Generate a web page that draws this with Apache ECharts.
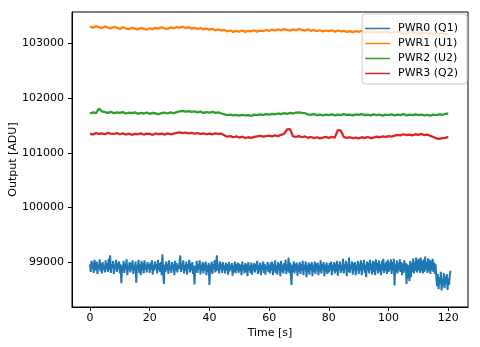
<!DOCTYPE html>
<html><head><meta charset="utf-8">
<script src="https://cdn.jsdelivr.net/npm/echarts@6/dist/echarts.min.js"></script>
<style>html,body{margin:0;padding:0;background:#fff}#c{width:480px;height:347px}</style>
</head><body><div id="c"></div>
<script>
// Sampling: PWR0 every 0.25 s, others every 1 s, starting at 0 s
const pwr0Start = 0, pwr0Step = 0.25;
const pwrStart = 0, pwrStep = 1;
const seriesNames = ['PWR0 (Q1)', 'PWR1 (U1)', 'PWR2 (U2)', 'PWR3 (Q2)'];
const xTicks = [0, 20, 40, 60, 80, 100, 120];
const yTicks = [99000, 100000, 101000, 102000, 103000];

const pwr0 = [
98960,98820,99020,98870,98990,98800,99040,98900,98850,99010,98780,98950,98880,99050,98830,98970,98790,99000,98860,98940,
98810,99030,98870,98980,98820,99060,98850,99123,98800,98960,98890,99020,98780,98950,98860,99040,98820,98980,98870,99010,
98790,98960,98610,98930,98840,99020,98800,98970,98870,99050,98760,98940,98850,99000,98810,98980,98860,99030,98780,98950,
98840,99010,98620,98940,98870,99040,98800,98960,98760,99020,98850,98980,98790,99030,98860,98950,98810,99000,98870,98960,
98800,98990,98860,99030,98770,98950,98840,99010,98880,98960,98790,99040,98850,98980,98820,99000,98760,99141,98830,98600,
98950,98820,99010,98860,98970,98780,99030,98850,98940,98800,99000,98870,98960,98760,99020,98840,98980,98810,98950,98870,
99010,99120,98820,98980,98860,99030,98790,98950,98840,99010,98770,98960,98880,99040,98810,98970,98850,99000,98780,98940,
98590,98920,98830,99020,98800,98960,98860,99030,98770,98950,98840,99000,98790,98970,98850,99010,98760,98940,98820,98980,
98580,98950,98830,99010,98780,98960,98870,99030,98810,98990,99123,98840,98950,98790,99010,98860,98970,98800,99000,98850,
98940,98790,98990,98850,98960,98770,99000,98830,98950,98860,98980,98750,98940,98820,99010,98790,98960,98850,98990,98800,
98970,98830,98950,98760,99010,98850,98940,98790,98980,98820,98960,98740,99000,98850,98930,98800,98990,98770,98950,98840,
98980,98810,98960,98860,99020,98780,98940,98830,98990,98760,98950,98850,99010,98800,98960,98770,98930,98860,99000,98820,
98950,98790,98990,98840,99010,98760,98960,98830,99030,98800,98940,98770,99000,98850,98970,98740,99020,98820,98950,98790,
98980,98850,99040,98780,98960,98830,99080,98800,98990,98760,98580,98950,98820,99010,98790,98970,98840,98990,98750,98950,
98830,99000,98780,98960,98840,99020,98760,98950,98860,99010,98720,98940,98810,98990,98770,98960,98850,99000,98740,98950,
98820,99010,98780,98970,98850,98990,98760,98940,98830,99030,98790,98960,98860,99000,98740,98950,98820,98990,98780,98940,
98810,98980,98850,99010,98760,98950,98840,99000,98790,98970,98830,99020,98750,98960,98860,99010,98800,98940,98840,99060,
98790,98960,98870,99020,98740,98970,98820,99080,98800,98950,98860,99010,98770,98980,98840,99000,98760,98950,98850,99020,
98780,98970,98840,99030,98760,98980,98860,99040,98800,98950,98720,99010,98840,98990,98790,99040,98850,98970,98770,99020,
98820,99000,98760,99050,98850,98980,98790,99030,98830,98960,98760,99020,98850,99060,98800,98970,98840,99010,98780,99040,
98820,98990,98860,99050,98780,99000,98840,99060,98570,98960,98810,99030,98790,98980,98850,99050,98820,99000,98760,98970,
98800,99030,98840,98980,98600,98960,98700,98940,98650,99020,98720,98980,98820,99070,98790,99000,98840,99080,98810,99040,
98850,99060,98800,99080,98830,99020,98790,99050,98820,99100,98860,99000,98800,99070,98830,99040,98780,99020,98850,99060,
98820,98990,98780,98960,98700,98560,98780,98500,98720,98600,98820,98480,98690,98560,98800,98520,98740,98600,98780,98490,
98700,98580,98760,98840
];
const pwr1 = [
103310,103290,103320,103300,103285,103315,103295,103280,103305,103290,
103270,103300,103280,103265,103290,103275,103260,103285,103270,103255,
103280,103265,103290,103275,103300,103280,103270,103295,103285,103305,
103290,103310,103285,103300,103275,103290,103270,103285,103260,103275,
103255,103270,103245,103260,103240,103250,103225,103240,103215,103235,
103220,103240,103215,103235,103225,103245,103220,103240,103230,103250,
103235,103255,103240,103260,103245,103265,103250,103240,103260,103245,
103265,103250,103240,103260,103235,103250,103230,103245,103225,103240,
103230,103245,103220,103240,103225,103235,103215,103230,103210,103230,
103215,103235,103205,103225,103210,103230,103200,103220,103205,103225,
103210,103195,103220,103200,103215,103190,103210,103195,103215,103190,
103205,103185,103200,103180,103195,103175,103195,103180,103190,103170,
103185
];
const pwr2 = [
101720,101740,101725,101810,101760,101745,101730,101750,101725,101740,
101730,101745,101720,101735,101725,101740,101715,101730,101720,101735,
101715,101730,101720,101710,101725,101735,101720,101740,101725,101745,
101760,101770,101755,101765,101750,101760,101740,101755,101730,101745,
101735,101750,101730,101740,101720,101705,101690,101700,101685,101695,
101680,101695,101685,101690,101675,101700,101690,101705,101695,101710,
101700,101715,101705,101720,101710,101725,101715,101730,101720,101735,
101740,101730,101725,101705,101695,101710,101690,101700,101685,101700,
101690,101705,101685,101700,101690,101710,101695,101700,101685,101705,
101695,101710,101690,101700,101685,101705,101690,101700,101680,101700,
101690,101705,101685,101700,101690,101710,101685,101700,101690,101705,
101690,101700,101685,101695,101680,101700,101690,101705,101695,101715,
101720
];
const pwr3 = [
101350,101335,101360,101345,101355,101340,101365,101350,101345,101360,
101340,101355,101335,101350,101330,101345,101340,101355,101335,101350,
101345,101330,101355,101340,101350,101335,101355,101340,101350,101365,
101375,101360,101370,101355,101365,101350,101360,101345,101355,101340,
101350,101340,101355,101345,101350,101320,101295,101305,101285,101300,
101280,101295,101270,101285,101275,101290,101300,101310,101295,101305,
101315,101300,101320,101305,101330,101345,101430,101435,101300,101290,
101305,101285,101300,101275,101290,101270,101285,101265,101280,101290,
101275,101290,101280,101415,101410,101290,101275,101285,101270,101280,
101265,101285,101275,101290,101270,101280,101295,101285,101300,101290,
101305,101295,101315,101330,101320,101340,101325,101335,101320,101340,
101330,101345,101325,101335,101310,101290,101265,101255,101270,101275,
101290
];

function pairs(vals, start, step) { return vals.map((v, i) => [start + i * step, v]); }

const colors = ['#1f77b4', '#ff7f0e', '#2ca02c', '#d62728'];
const widths = [2, 2.3, 2.3, 2.3];
const font = 'DejaVu Sans';
const allData = [pairs(pwr0, pwr0Start, pwr0Step), pairs(pwr1, pwrStart, pwrStep), pairs(pwr2, pwrStart, pwrStep), pairs(pwr3, pwrStart, pwrStep)];

const chart = echarts.init(document.getElementById('c'), null, {renderer: 'canvas'});
chart.setOption({
  animation: false,
  color: colors,
  grid: {left: 72, right: 12, top: 12, bottom: 40, show: true, borderColor: '#000', borderWidth: 1, backgroundColor: 'transparent', containLabel: false, outerBoundsMode: 'none'},
  legend: {
    show: true, orient: 'vertical', right: 13, top: 14, data: seriesNames,
    icon: 'path://M0,0h25v1.5h-25z',
    itemWidth: 25, itemHeight: 11, itemGap: 4, padding: [9, 9, 5, 3],
    backgroundColor: 'rgba(255,255,255,0.8)', borderColor: '#cccccc', borderWidth: 1, borderRadius: 3,
    textStyle: {fontFamily: font, fontSize: 11, color: '#000', padding: [0, 0, 0, 3]}
  },
  xAxis: {
    type: 'value', min: -6.03, max: 126.6,
    name: 'Time [s]', nameLocation: 'middle', nameGap: 21, nameMoveOverlap: false,
    nameTextStyle: {fontFamily: font, fontSize: 11, color: '#000'},
    axisLine: {show: true, onZero: false, lineStyle: {color: '#000', width: 1}},
    axisTick: {show: true, length: 4, lineStyle: {color: '#000'}, customValues: xTicks},
    axisLabel: {fontFamily: font, fontSize: 11, color: '#000', margin: 6, customValues: xTicks, formatter: v => String(v)},
    splitLine: {show: false}
  },
  yAxis: {
    type: 'value', min: 98176, max: 103579,
    name: 'Output [ADU]', nameLocation: 'middle', nameGap: 53, nameRotate: 90, nameMoveOverlap: false,
    nameTextStyle: {fontFamily: font, fontSize: 11, color: '#000'},
    axisLine: {show: true, onZero: false, lineStyle: {color: '#000', width: 1}},
    axisTick: {show: true, length: 4, lineStyle: {color: '#000'}, customValues: yTicks},
    axisLabel: {fontFamily: font, fontSize: 11, color: '#000', margin: 8, customValues: yTicks, formatter: v => String(v)},
    splitLine: {show: false}
  },
  series: seriesNames.map((n, k) => ({
    name: n, type: 'line', data: allData[k], showSymbol: false, symbol: 'none',
    lineStyle: {width: widths[k], color: colors[k]}, itemStyle: {color: colors[k]}, z: 2
  }))
});
</script></body></html>
